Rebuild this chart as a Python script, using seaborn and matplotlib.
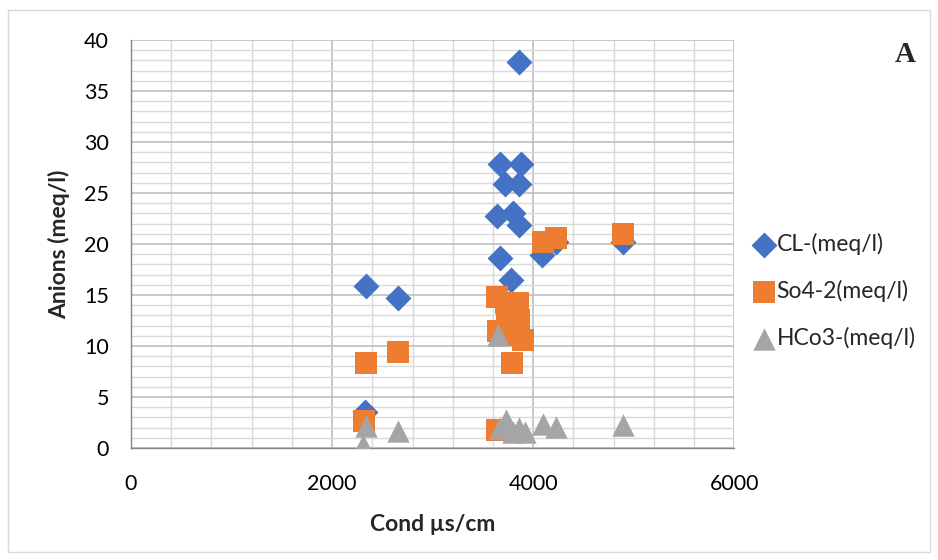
import matplotlib
matplotlib.use("Agg")
import matplotlib.pyplot as plt
from matplotlib.ticker import MultipleLocator
import numpy as np
import pandas as pd
import seaborn as sns

sns.set_style("white")
plt.rcParams["font.family"] = ["Lato", "DejaVu Sans"]

# conductivity (µs/cm) and anion concentrations (meq/l)
cl_cond = [3860, 3670, 3880, 3720, 3860, 3640, 3800, 3860, 3670, 3780,
           4090, 4230, 4890, 2340, 2660, 2330]
cl_val = [37.8, 27.8, 27.8, 25.9, 25.9, 22.7, 23.0, 21.9, 18.6, 16.5,
          18.9, 20.2, 20.2, 15.9, 14.7, 3.5]

so4_cond = [2340, 2660, 2320, 3640, 3730, 3850, 3810, 3860, 3740, 3850,
            3790, 3900, 3650, 3790, 3640, 4100, 4230, 4890]
so4_val = [8.3, 9.4, 2.6, 14.8, 14.2, 14.2, 13.2, 12.5, 12.1, 11.6,
           11.1, 10.6, 11.5, 8.3, 1.8, 20.2, 20.6, 21.0]

hco3_cond = [2310, 2340, 2660, 3650, 3730, 3670, 3860, 3800, 3920,
             4100, 4230, 4890]
hco3_val = [0.3, 2.2, 1.7, 11.1, 2.7, 2.0, 2.0, 1.6, 1.6,
            2.4, 2.1, 2.3]

series = [
    ("CL-(meq/l)", cl_cond, cl_val, "D", "#4472C4", 175),
    ("So4-2(meq/l)", so4_cond, so4_val, "s", "#ED7D31", 240),
    ("HCo3-(meq/l)", hco3_cond, hco3_val, "^", "#A5A5A5", 260),
]

fig = plt.figure(figsize=(9.38, 5.6), dpi=100)
ax = fig.add_axes([0.1397, 0.2, 0.643, 0.7286])

for name, xs, ys, mk, col, size in series:
    df = pd.DataFrame({"cond": xs, "val": ys})
    sns.scatterplot(data=df, x="cond", y="val", ax=ax, marker=mk, color=col,
                    s=size, linewidth=0, label=name, zorder=3)

ax.set_xlim(0, 6000)
ax.set_ylim(0, 40)
ax.xaxis.set_major_locator(MultipleLocator(2000))
ax.xaxis.set_minor_locator(MultipleLocator(400))
ax.yaxis.set_major_locator(MultipleLocator(5))
ax.yaxis.set_minor_locator(MultipleLocator(1))
ax.grid(which="major", color="#BFBFBF", linewidth=1.2, zorder=0)
ax.grid(which="minor", color="#D9D9D9", linewidth=1.0, zorder=0)
ax.set_axisbelow(True)

for side in ["top", "right"]:
    ax.spines[side].set_visible(False)
for side in ["left", "bottom"]:
    ax.spines[side].set_color("#868686")
    ax.spines[side].set_linewidth(1.0)
ax.tick_params(which="major", length=6, color="#868686", labelsize=15.5,
               labelcolor="#000000")
ax.tick_params(axis="x", which="major", pad=13)
ax.tick_params(axis="y", which="major", pad=10)
ax.tick_params(which="minor", length=0)

ax.set_xlabel("Cond µs/cm", fontsize=16.5, fontweight="bold", labelpad=14)
ax.set_ylabel("Anions (meq/l)", fontsize=16.5, fontweight="bold", labelpad=10)

fig.text(0.965, 0.902, "A", fontsize=21, fontweight="bold",
         family=["Liberation Serif", "DejaVu Serif"], ha="center", va="center")

leg = ax.legend(loc="center left", bbox_to_anchor=(1.0, 0.385), frameon=False,
                fontsize=16.5, labelspacing=1.1, handletextpad=0.1,
                handlelength=0.9, borderaxespad=0.45)

# outer border of the chart area
fig.patches.append(plt.Rectangle((0.009, 0.014), 0.982, 0.968, transform=fig.transFigure,
                                 fill=False, edgecolor="#D9D9D9", linewidth=1.0))

fig.savefig("out.png", dpi=100)
